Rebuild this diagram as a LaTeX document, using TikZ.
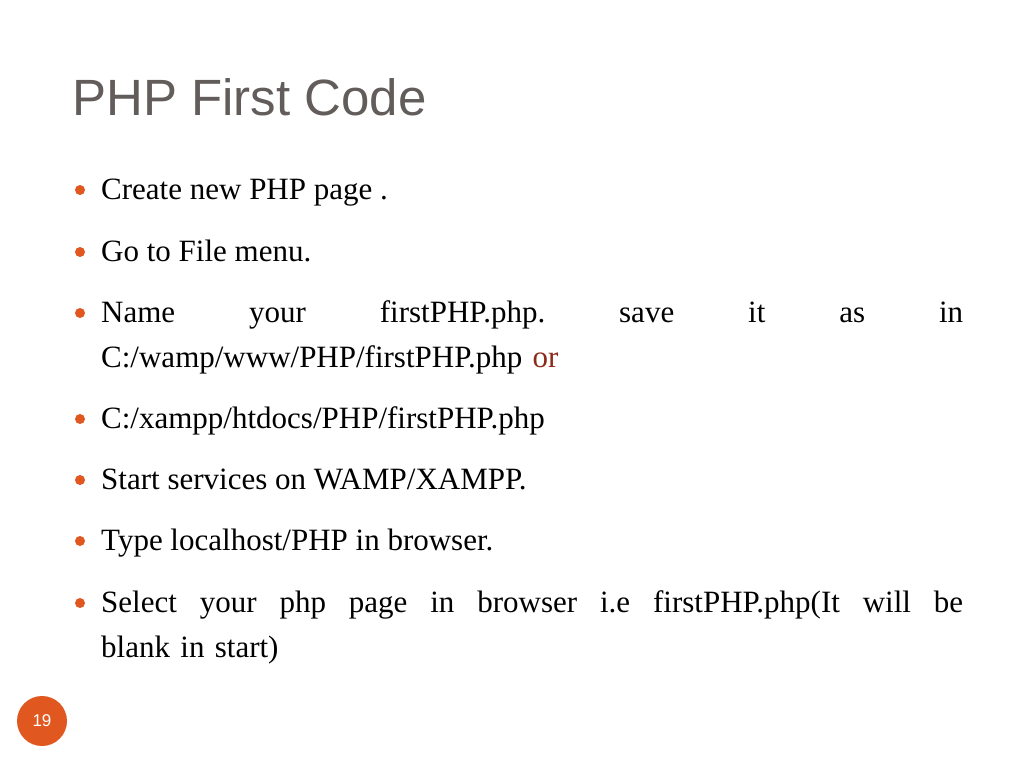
\documentclass[tikz,border=0pt]{standalone}
\usepackage{fontspec}
\setmainfont{Liberation Serif}
\newfontfamily\titlefont{Liberation Sans}
\definecolor{ttl}{HTML}{625C5A}
\definecolor{bul}{HTML}{E0581F}
\definecolor{orred}{HTML}{8B2A1A}
\begin{document}
\begin{tikzpicture}[x=1pt,y=-1pt,
  item/.style={anchor=base west,inner sep=0pt,font=\fontsize{31}{45}\selectfont},
  dot/.style={circle,fill=bul,inner sep=0pt,minimum size=10pt}]
\useasboundingbox (0,0) rectangle (1024,768);
\node[anchor=base west,inner sep=0pt,text=ttl,font=\titlefont\fontsize{51}{60}\selectfont] (title) at (72,115) {PHP First Code};
\foreach \n/\y in {1/190,2/252,3/313,4/419,5/480,6/541,7/603}{
  \node[dot] (d\n) at (80,\y) {};
}
\node[item] (t1) at (101,199) {Create new PHP page .};
\node[item] (t2) at (101,261) {Go to File menu.};
\node[item,text width=862pt,align=left] (t3) at (101,322) {Name\hfill your\hfill firstPHP.php.\hfill save\hfill it\hfill as\hfill in\\C:/wamp/www/PHP/firstPHP.php \textcolor{orred}{or}};
\node[item] (t4) at (101,428) {C:/xampp/htdocs/PHP/firstPHP.php};
\node[item] (t5) at (101,489) {Start services on WAMP/XAMPP.};
\node[item] (t6) at (101,550) {Type localhost/PHP in browser.};
\node[item,text width=862pt,align=left] (t7) at (101,612) {Select\hfill your\hfill php\hfill page\hfill in\hfill browser\hfill i.e\hfill firstPHP.php(It\hfill will\hfill be\\blank in start)};
\node[circle,fill=bul,minimum size=50pt,inner sep=0pt,text=white,font=\titlefont\fontsize{17}{20}\selectfont] (pg) at (42,721) {19};
\end{tikzpicture}
\end{document}
